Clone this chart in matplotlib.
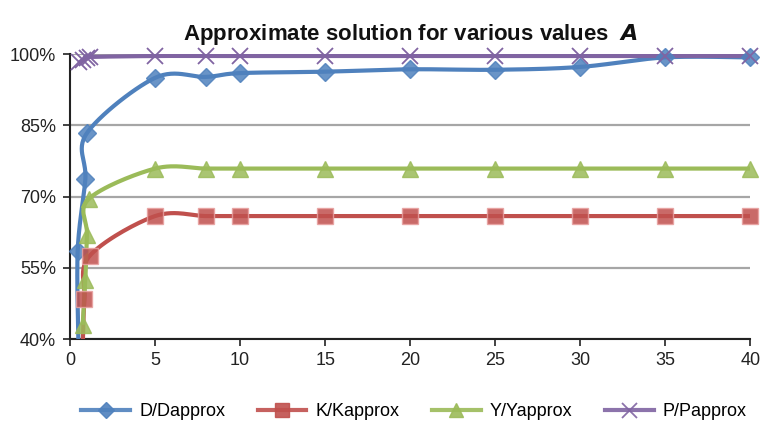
import numpy as np
import matplotlib.pyplot as plt

plt.rcParams['font.family'] = ['Liberation Sans', 'DejaVu Sans']

# values of A (small ones differ per series) and ratios in %
A_tail = [5, 8, 10, 15, 20, 25, 30, 35, 40]

A_D = [0.5, 0.45, 0.9, 1.0] + A_tail
D_ratio = [38.0, 58.5, 73.6, 83.4, 95.0, 95.2, 96.0, 96.3, 96.8, 96.7, 97.3, 99.3, 99.3]

A_K = [0.75, 0.85, 1.15] + A_tail
K_ratio = [38.5, 48.5, 57.5, 65.9, 65.9, 65.9, 65.9, 65.9, 65.9, 65.9, 65.9, 65.9]

A_Y = [0.75, 0.9, 1.0, 1.1] + A_tail
Y_ratio = [43.0, 52.5, 62.0, 69.5, 75.9, 75.9, 75.9, 75.9, 75.9, 75.9, 75.9, 75.9, 75.9]

A_P = [0.55, 0.75, 1.0, 1.2] + A_tail
P_ratio = [98.3, 98.7, 99.1, 99.4, 99.6, 99.6, 99.6, 99.6, 99.6, 99.6, 99.6, 99.6, 99.6]

labels = ['D/Dapprox', 'K/Kapprox', 'Y/Yapprox', 'P/Papprox']
colors = ['#4F81BD', '#C0504D', '#9BBB59', '#8064A2']
markers = ['D', 's', '^', 'x']
msizes = [9, 11, 11, 12]

Y_MIN, Y_MAX = 40, 100


def smooth(x, y, n=30):
    # excel-style smoothed line: bezier segments with catmull-rom controls
    p = np.column_stack([x, y]).astype(float)
    p = np.vstack([p[0], p, p[-1]])
    t = np.linspace(0, 1, n)[:, None]
    out = []
    for i in range(1, len(p) - 2):
        b0 = p[i]
        b1 = p[i] + (p[i + 1] - p[i - 1]) / 6
        b2 = p[i + 1] - (p[i + 2] - p[i]) / 6
        b3 = p[i + 1]
        seg = ((1 - t) ** 3) * b0 + 3 * ((1 - t) ** 2) * t * b1 + 3 * (1 - t) * t ** 2 * b2 + t ** 3 * b3
        out.append(seg)
    out = np.vstack(out)
    return out[:, 0], out[:, 1]


fig = plt.figure(figsize=(7.61, 4.26), dpi=100)
ax = fig.add_axes([0.092, 0.204, 0.894, 0.669])

series = [(A_D, D_ratio), (A_K, K_ratio), (A_Y, Y_ratio), (A_P, P_ratio)]
handles = []
for (x, y), lab, c, m, ms in zip(series, labels, colors, markers, msizes):
    sx, sy = smooth(x, y)
    ax.plot(sx, sy, color=c, lw=3, solid_capstyle='butt', zorder=3)
    # markers only for points inside the value range, not clipped at the frame
    x = np.asarray(x)
    y = np.asarray(y)
    inside = y >= Y_MIN
    if m == 'x':
        ax.plot(x[inside], y[inside], ls='none', marker=m, ms=ms, mew=1.3, color=c,
                zorder=4, clip_on=False)
    else:
        ax.plot(x[inside], y[inside], ls='none', marker=m, ms=ms, mfc=c,
                mec='#E8A0A0' if c == '#C0504D' else c,
                mew=1, alpha=0.85, zorder=4, clip_on=False)
    h, = ax.plot([], [], color=c, lw=3, marker=m, ms=ms * 0.9,
                 mew=1.3 if m == 'x' else 1, mfc=c, mec=c, alpha=0.9)
    handles.append(h)

ax.set_xlim(0, 40)
ax.set_ylim(Y_MIN, Y_MAX)
ax.set_xticks(range(0, 41, 5))
ax.set_yticks([40, 55, 70, 85, 100])
ax.set_yticklabels(['%d%%' % v for v in [40, 55, 70, 85, 100]])
ax.tick_params(axis='both', labelsize=13, direction='out', length=5, width=1.2, colors='#222222')
ax.tick_params(axis='y', pad=5)
ax.tick_params(axis='x', pad=4)
ax.grid(axis='y', color='#A6A6A6', lw=1.6, zorder=0)
for s in ['top', 'right']:
    ax.spines[s].set_visible(False)
for s in ['left', 'bottom']:
    ax.spines[s].set_linewidth(1.5)
    ax.spines[s].set_color('#222222')

ax.set_title(r'Approximate solution for various values  $\boldsymbol{A}$', fontsize=16,
             fontweight='bold', pad=10, color='#111111')

fig.legend(handles, labels, loc='center', ncol=4, bbox_to_anchor=(414 / 761, 1 - 412 / 426),
           frameon=False, fontsize=13, handlelength=2.7, columnspacing=1.8, handletextpad=0.5)

fig.savefig('out.png', dpi=100)
